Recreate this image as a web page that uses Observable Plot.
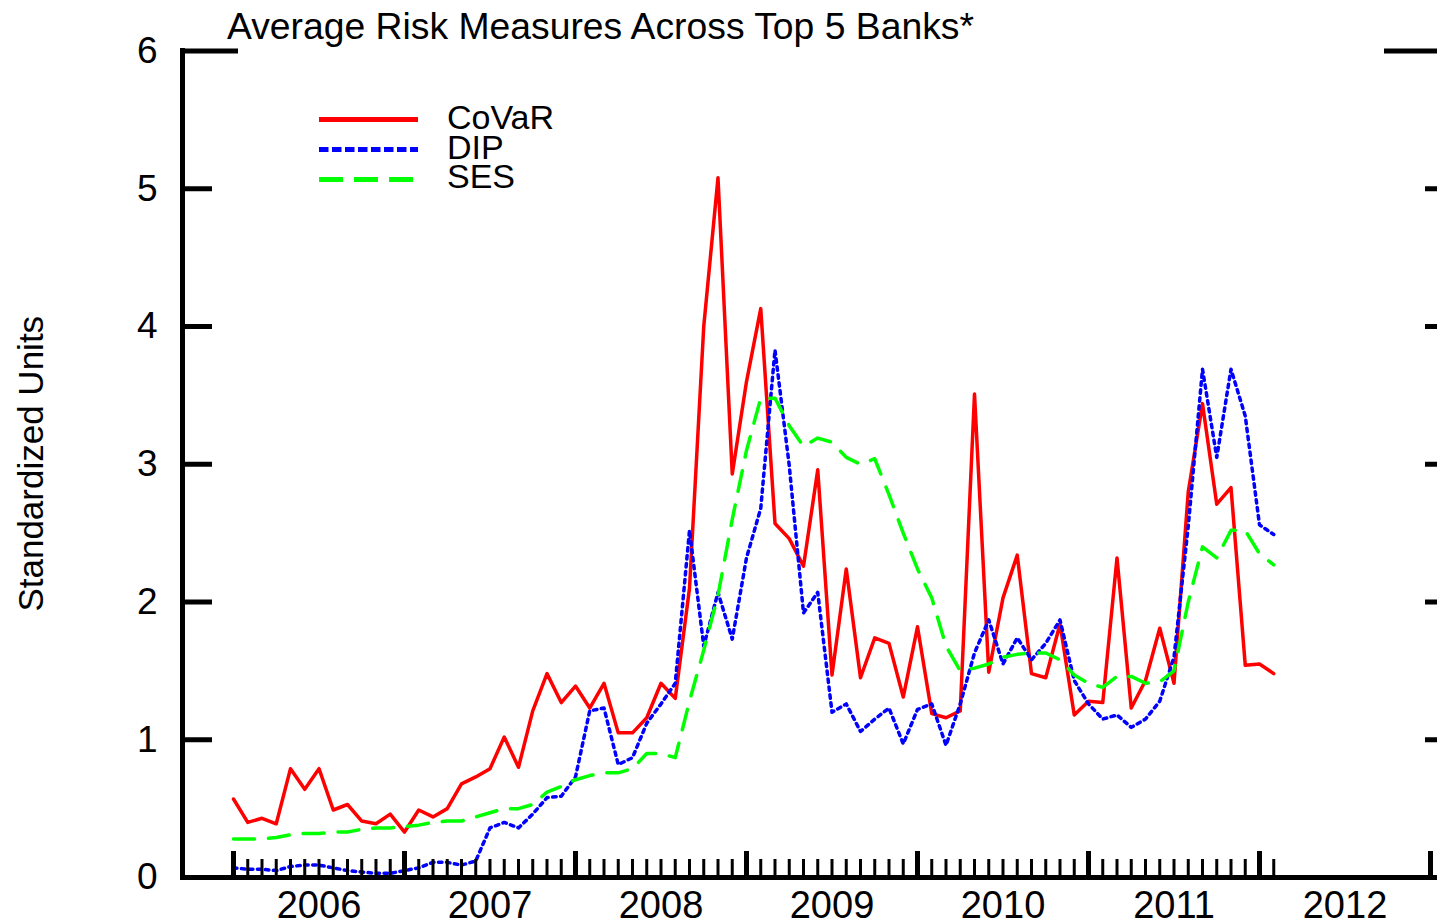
<!DOCTYPE html>
<html><head><meta charset="utf-8">
<script src="https://cdn.jsdelivr.net/npm/d3@7"></script>
<script src="https://cdn.jsdelivr.net/npm/@observablehq/plot@0.6"></script>
<style>
html,body{margin:0;padding:0;background:#fff;overflow:hidden;}
#wrap{position:relative;width:1437px;height:923px;}
#overlay{position:absolute;left:0;top:0;}
</style></head><body><div id="wrap"></div>
<script>
const FONT = "'Liberation Sans', Arial, Helvetica, sans-serif";
const title = "Average Risk Measures Across Top 5 Banks*";
const yLabel = "Standardized Units";
const seriesNames = ["CoVaR", "DIP", "SES"];
const seriesColors = ["#ff0000", "#0000ff", "#00ff00"];
const seriesDash = [null, "3.5,4.5", "21,14"];
const legendDash = [null, "9.5,3.5", "24,11"];
const yTicks = [0, 1, 2, 3, 4, 5, 6];
const yearLabels = [2006, 2007, 2008, 2009, 2010, 2011, 2012];
const yearTicks = [2006, 2007, 2008, 2009, 2010, 2011, 2012, 2013];
const firstYear = 2006; // series are monthly, starting January 2006

const covar = [
  0.57, 0.40, 0.43, 0.39, 0.79, 0.64, 0.79, 0.49, 0.53, 0.41, 0.39, 0.46,
  0.33, 0.49, 0.44, 0.50, 0.68, 0.73, 0.79, 1.02, 0.80, 1.21, 1.48, 1.27,
  1.39, 1.23, 1.41, 1.05, 1.05, 1.16, 1.41, 1.30, 2.10, 4.00, 5.08, 2.93,
  3.60, 4.13, 2.57, 2.46, 2.26, 2.96, 1.47, 2.24, 1.45, 1.74, 1.70, 1.31,
  1.82, 1.19, 1.16, 1.21, 3.51, 1.49, 2.03, 2.34, 1.48, 1.45, 1.84, 1.18,
  1.28, 1.27, 2.32, 1.23, 1.43, 1.81, 1.41, 2.80, 3.44, 2.71, 2.83, 1.54,
  1.55, 1.48
];
const dip = [
  0.07, 0.06, 0.06, 0.05, 0.08, 0.09, 0.09, 0.07, 0.05, 0.04, 0.03, 0.03,
  0.05, 0.07, 0.11, 0.11, 0.09, 0.12, 0.36, 0.40, 0.36, 0.46, 0.58, 0.59,
  0.73, 1.21, 1.23, 0.82, 0.87, 1.12, 1.26, 1.41, 2.52, 1.68, 2.07, 1.73,
  2.32, 2.68, 3.83, 2.99, 1.92, 2.07, 1.20, 1.26, 1.06, 1.15, 1.23, 0.97,
  1.22, 1.26, 0.96, 1.26, 1.63, 1.87, 1.55, 1.74, 1.58, 1.70, 1.87, 1.43,
  1.26, 1.15, 1.18, 1.09, 1.15, 1.28, 1.60, 2.55, 3.69, 3.05, 3.69, 3.35,
  2.56, 2.49
];
const ses = [
  0.28, 0.28, 0.28, 0.29, 0.31, 0.32, 0.32, 0.33, 0.33, 0.35, 0.36, 0.36,
  0.37, 0.38, 0.40, 0.41, 0.41, 0.44, 0.47, 0.50, 0.50, 0.53, 0.62, 0.66,
  0.71, 0.74, 0.76, 0.76, 0.79, 0.90, 0.90, 0.87, 1.28, 1.65, 2.05, 2.60,
  3.10, 3.48, 3.48, 3.28, 3.13, 3.19, 3.16, 3.05, 3.00, 3.04, 2.78, 2.50,
  2.24, 2.03, 1.68, 1.50, 1.52, 1.55, 1.60, 1.62, 1.63, 1.63, 1.58, 1.47,
  1.41, 1.38, 1.46, 1.46, 1.41, 1.42, 1.50, 2.00, 2.40, 2.32, 2.52, 2.52,
  2.35, 2.27
];

const seriesValues = [covar, dip, ses];
const months = covar.map((_, i) => firstYear + i / 12);
const rows = [];
seriesValues.forEach((vals, s) => vals.forEach((v, i) => rows.push({series: seriesNames[s], t: months[i], v})));
const minorTicks = months.filter((m, i) => i % 12 !== 0);

const W = 1437, H = 923, mL = 182, mR = -23, mT = 50.5, mB = 46;
const xDom = [2005.7018, 2013.1754];
const ppy = (W - mR - mL) / (xDom[1] - xDom[0]);
const ppu = (H - mB - mT) / 6;

const lineMarks = seriesNames.map((name, s) =>
  Plot.line(rows.filter(r => r.series === name), {
    x: "t", y: "v", stroke: seriesColors[s], strokeWidth: 3.5,
    strokeDasharray: seriesDash[s] || undefined, strokeLinejoin: "round"
  })
);

const chart = Plot.plot({
  width: W, height: H,
  marginLeft: mL, marginRight: mR, marginTop: mT, marginBottom: mB,
  style: {fontFamily: FONT, background: "white", color: "black"},
  x: {domain: xDom, range: [mL, W - mR]},
  y: {domain: [0, 6], range: [H - mB, mT]},
  marks: [
    Plot.axisY({ticks: yTicks, tickFormat: d => String(d), tickSize: 0, tickPadding: 25, fontSize: 37, label: null}),
    Plot.axisX({ticks: yearLabels.map(y => y + 0.5), tickFormat: d => String(Math.floor(d)), tickSize: 0, tickPadding: 14, fontSize: 38, label: null}),
    ...lineMarks,
    Plot.ruleY(yTicks, {x1: () => xDom[0], x2: d => xDom[0] + (d === 6 ? 56 : 30) / ppy, strokeWidth: 5}),
    Plot.ruleY(yTicks, {x1: d => xDom[1] - (d === 6 ? 76 : 35) / ppy, x2: () => xDom[1], strokeWidth: 5}),
    Plot.ruleX(yearTicks, {y1: 0, y2: 26 / ppu, strokeWidth: 5}),
    Plot.ruleX(minorTicks, {y1: 0, y2: 18 / ppu, strokeWidth: 3}),
    Plot.ruleY([0], {strokeWidth: 5}),
    Plot.ruleX([xDom[0]], {strokeWidth: 5, insetTop: -2.5, insetBottom: -3})
  ]
});
document.getElementById("wrap").appendChild(chart);

// Title, legend and y-axis title
const ov = d3.select("#wrap").append("svg").attr("id", "overlay")
  .attr("width", W).attr("height", H).style("font-family", FONT);
ov.append("text").attr("x", 227).attr("y", 39).attr("font-size", 37.3).attr("fill", "black").text(title);
ov.append("text").attr("transform", `translate(43,${(mT + H - mB) / 2}) rotate(-90)`)
  .attr("text-anchor", "middle").attr("font-size", 35).attr("fill", "black").text(yLabel);
const legendY = [119.5, 149.5, 179.5];
const legendBase = [129, 159, 188];
seriesNames.forEach((name, s) => {
  ov.append("line").attr("x1", 319).attr("x2", s === 2 ? 413 : 418)
    .attr("y1", legendY[s]).attr("y2", legendY[s])
    .attr("stroke", seriesColors[s]).attr("stroke-width", 5)
    .attr("stroke-dasharray", legendDash[s]);
  ov.append("text").attr("x", 447).attr("y", legendBase[s]).attr("font-size", 34).attr("fill", "black").text(name);
});
</script></body></html>
